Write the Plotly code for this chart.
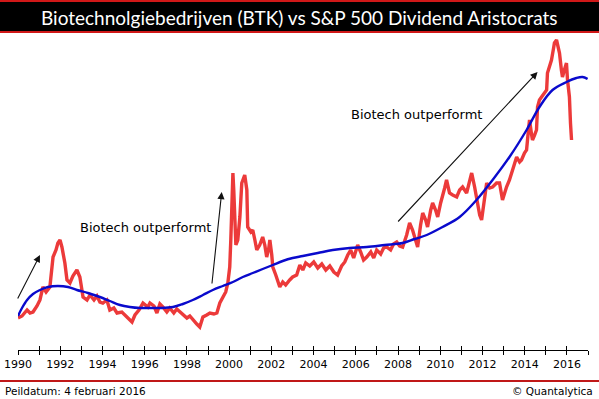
import plotly.graph_objects as go

# ---- data (relative-strength index, arbitrary units) ----
btk_years = [1990.00, 1990.19, 1990.43, 1990.57, 1990.71, 1990.90, 1991.04, 1991.18, 1991.33, 1991.51,
             1991.66, 1991.80, 1991.89, 1991.99, 1992.08, 1992.22, 1992.32, 1992.46, 1992.60, 1992.79,
             1992.93, 1993.08, 1993.27, 1993.41, 1993.60, 1993.74, 1993.88, 1994.02, 1994.21, 1994.35,
             1994.54, 1994.69, 1994.92, 1995.16, 1995.40, 1995.54, 1995.73, 1995.92, 1996.15, 1996.25,
             1996.44, 1996.58, 1996.72, 1996.86, 1997.05, 1997.19, 1997.38, 1997.52, 1997.67, 1997.86,
             1998.00, 1998.14, 1998.28, 1998.47, 1998.61, 1998.76, 1998.94, 1999.09, 1999.28, 1999.42,
             1999.56, 1999.70, 1999.84, 1999.94, 2000.03, 2000.08, 2000.13, 2000.18, 2000.22, 2000.27,
             2000.32, 2000.41, 2000.51, 2000.60, 2000.74, 2000.84, 2000.88, 2001.03, 2001.12, 2001.22,
             2001.31, 2001.45, 2001.59, 2001.69, 2001.78, 2001.88, 2001.93, 2002.02, 2002.07, 2002.21,
             2002.40, 2002.54, 2002.68, 2002.87, 2003.01, 2003.20, 2003.35, 2003.49, 2003.63, 2003.82,
             2004.01, 2004.20, 2004.39, 2004.58, 2004.77, 2004.96, 2005.14, 2005.33, 2005.48, 2005.62,
             2005.76, 2005.90, 2006.09, 2006.23, 2006.37, 2006.52, 2006.71, 2006.85, 2006.99, 2007.18,
             2007.32, 2007.46, 2007.65, 2007.79, 2007.94, 2008.08, 2008.22, 2008.41, 2008.55, 2008.69,
             2008.79, 2008.93, 2009.07, 2009.17, 2009.31, 2009.40, 2009.55, 2009.64, 2009.78, 2009.88,
             2010.02, 2010.11, 2010.21, 2010.30, 2010.44, 2010.59, 2010.78, 2010.92, 2011.06, 2011.25,
             2011.39, 2011.49, 2011.63, 2011.77, 2011.87, 2011.96, 2012.10, 2012.20, 2012.34, 2012.48,
             2012.67, 2012.81, 2012.95, 2013.05, 2013.14, 2013.28, 2013.43, 2013.62, 2013.76, 2013.85,
             2013.99, 2014.09, 2014.18, 2014.23, 2014.33, 2014.37, 2014.47, 2014.56, 2014.61, 2014.70,
             2014.80, 2014.94, 2015.04, 2015.08, 2015.18, 2015.27, 2015.37, 2015.41, 2015.51, 2015.55,
             2015.65, 2015.74, 2015.79, 2015.88, 2015.98, 2016.03, 2016.12, 2016.17, 2016.22]
btk_values = [32, 34, 40, 37, 38, 44, 50, 63, 58, 63,
              93, 100, 107, 110, 103, 87, 70, 67, 74, 80,
              73, 53, 50, 55, 50, 54, 48, 47, 50, 40,
              42, 37, 38, 33, 28, 35, 40, 47, 43, 47,
              44, 37, 46, 43, 38, 42, 37, 41, 38, 34,
              32, 34, 30, 26, 23, 33, 35, 37, 36, 37,
              47, 53, 58, 67, 83, 110, 140, 177, 160, 125,
              105, 110, 133, 167, 175, 160, 123, 118, 120, 110,
              100, 105, 113, 105, 93, 102, 110, 95, 83, 75,
              63, 68, 65, 70, 73, 75, 85, 80, 87, 84,
              88, 82, 86, 80, 84, 78, 75, 84, 88, 95,
              100, 92, 105, 98, 90, 93, 98, 92, 100, 96,
              102, 103, 100, 106, 108, 104, 103, 115, 127, 120,
              113, 103, 125, 137, 130, 123, 140, 147, 140, 133,
              147, 153, 162, 170, 157, 155, 153, 160, 163, 157,
              170, 177, 163, 147, 135, 130, 150, 167, 162, 163,
              167, 167, 150, 157, 163, 170, 180, 193, 188, 190,
              197, 200, 220, 230, 215, 210, 215, 220, 243, 250,
              253, 257, 260, 277, 285, 290, 302, 307, 310, 305,
              297, 280, 273, 280, 287, 270, 253, 227, 210]

aristo_years = [1990.00, 1990.19, 1990.43, 1990.71, 1991.04, 1991.42, 1991.89, 1992.37, 1992.79, 1993.31,
                1993.88, 1994.35, 1994.83, 1995.30, 1995.77, 1996.25, 1996.72, 1997.34, 1997.81, 1998.28,
                1998.76, 1999.23, 1999.70, 2000.18, 2000.65, 2001.12, 2001.59, 2002.07, 2002.54, 2003.01,
                2003.49, 2004.20, 2004.91, 2005.71, 2006.52, 2007.37, 2008.22, 2008.79, 2009.36, 2010.11,
                2010.92, 2011.72, 2012.48, 2013.28, 2014.09, 2014.70, 2015.32, 2015.98, 2016.45, 2016.74,
                2016.98]
aristo_values = [34, 42, 50, 56, 60, 63, 64, 63, 60, 57,
                 53, 49, 45, 43, 42, 42, 42, 43, 46, 50,
                 55, 60, 64, 68, 73, 77, 81, 85, 89, 92,
                 94, 97, 100, 102, 103, 105, 107, 111, 115, 123,
                 133, 150, 170, 193, 220, 243, 260, 268, 272, 273,
                 271]

label_years = list(range(1990, 2017, 2))
tick_labels = [str(y) for y in label_years]
year_ticks = list(range(1990, 2018))

title_text = "Biotechnolgiebedrijven (BTK) vs S&P 500 Dividend Aristocrats"
note_text = "Biotech outperformt"
footer_left = "Peildatum: 4 februari 2016"
footer_right = "© Quantalytica"

# ---- layout geometry (pixels) ----
W, H = 599, 399
PLOT_TOP, PLOT_BOTTOM = 38, 350
PLOT_LEFT, PLOT_RIGHT = 18, 588


def py(pixel_y):
    """convert a pixel row into paper y coordinate"""
    return (PLOT_BOTTOM - pixel_y) / (PLOT_BOTTOM - PLOT_TOP)


def px(pixel_x):
    return (pixel_x - PLOT_LEFT) / (PLOT_RIGHT - PLOT_LEFT)


fig = go.Figure()
fig.add_trace(go.Scatter(x=btk_years, y=btk_values, mode="lines",
                         line=dict(color="rgb(236,58,58)", width=3.4),
                         name="BTK", hoverinfo="skip"))
fig.add_trace(go.Scatter(x=aristo_years, y=aristo_values, mode="lines",
                         line=dict(color="#0a0acc", width=2.4, shape="spline"),
                         name="Aristocrats", hoverinfo="skip"))
# invisible trace for the overlay axis (upper halves of tick marks)
fig.add_trace(go.Scatter(x=[1990, 2017], y=[0, 0], xaxis="x2", mode="lines",
                         line=dict(width=0), hoverinfo="skip", showlegend=False))

font_main = "DejaVu Sans"

fig.update_layout(
    width=W, height=H,
    margin=dict(l=PLOT_LEFT, r=W - PLOT_RIGHT, t=PLOT_TOP, b=H - PLOT_BOTTOM, pad=0),
    paper_bgcolor="white", plot_bgcolor="white",
    showlegend=False,
    xaxis=dict(range=[1990, 2017], tickvals=label_years, ticktext=tick_labels,
               ticks="outside", ticklen=4, tickcolor="black", tickwidth=1,
               minor=dict(tickvals=year_ticks, ticks="outside", ticklen=4, tickcolor="black"),
               showline=True, linecolor="black", linewidth=1, showgrid=False, zeroline=False,
               automargin=False,
               tickfont=dict(family=font_main, size=11, color="black")),
    xaxis2=dict(range=[1990, 2017], overlaying="x", anchor="y", side="bottom",
                tickvals=year_ticks, ticks="inside", ticklen=4, tickcolor="black",
                showticklabels=False, showline=False, showgrid=False, zeroline=False,
                automargin=False),
    yaxis=dict(range=[0, PLOT_BOTTOM - PLOT_TOP], visible=False, showgrid=False,
               zeroline=False, automargin=False),
)

shapes = [
    # title bar
    dict(type="rect", xref="paper", yref="paper", x0=px(0), x1=px(W), y0=py(33), y1=py(0),
         fillcolor="#d01818", line=dict(width=0), layer="above"),
    dict(type="rect", xref="paper", yref="paper", x0=px(0), x1=px(W), y0=py(31), y1=py(2),
         fillcolor="black", line=dict(width=0), layer="above"),
    # footer separator
    dict(type="rect", xref="paper", yref="paper", x0=px(0), x1=px(W), y0=py(382), y1=py(380),
         fillcolor="#c01818", line=dict(width=0), layer="above"),
]
fig.update_layout(shapes=shapes)

ann = [
    dict(text=title_text, xref="paper", yref="paper", x=px(W / 2), y=py(17), showarrow=False,
         xanchor="center", yanchor="middle",
         font=dict(family="Lato", size=19, color="white")),
    dict(text=footer_left, xref="paper", yref="paper", x=px(3), y=py(391), showarrow=False,
         xanchor="left", yanchor="middle", font=dict(family=font_main, size=10.5, color="black")),
    dict(text=footer_right, xref="paper", yref="paper", x=px(595), y=py(391), showarrow=False,
         xanchor="right", yanchor="middle", font=dict(family=font_main, size=10.5, color="black")),
    dict(text=note_text, x=1992.84, y=123, xref="x", yref="y", showarrow=False,
         xanchor="left", yanchor="middle", font=dict(family=font_main, size=13, color="black")),
    dict(text=note_text, x=2005.66, y=236, xref="x", yref="y", showarrow=False,
         xanchor="left", yanchor="middle", font=dict(family=font_main, size=13, color="black")),
]
arrows = [((1989.95, 50), (1991.04, 95)),
          ((1999.18, 65), (1999.65, 158)),
          ((2007.94, 127), (2014.61, 278))]
for (tx, ty), (hx, hy) in arrows:
    ann.append(dict(x=hx, y=hy, ax=tx, ay=ty, xref="x", yref="y", axref="x", ayref="y",
                    text="", showarrow=True, arrowhead=2, arrowsize=1.3, arrowwidth=1.1,
                    arrowcolor="#111111"))
fig.update_layout(annotations=ann)

# remove the browser's default page margin so the figure sits at the window's top-left corner
fig.write_html("out.html", config={"displayModeBar": False},
               post_script="document.body.style.margin='0';")
